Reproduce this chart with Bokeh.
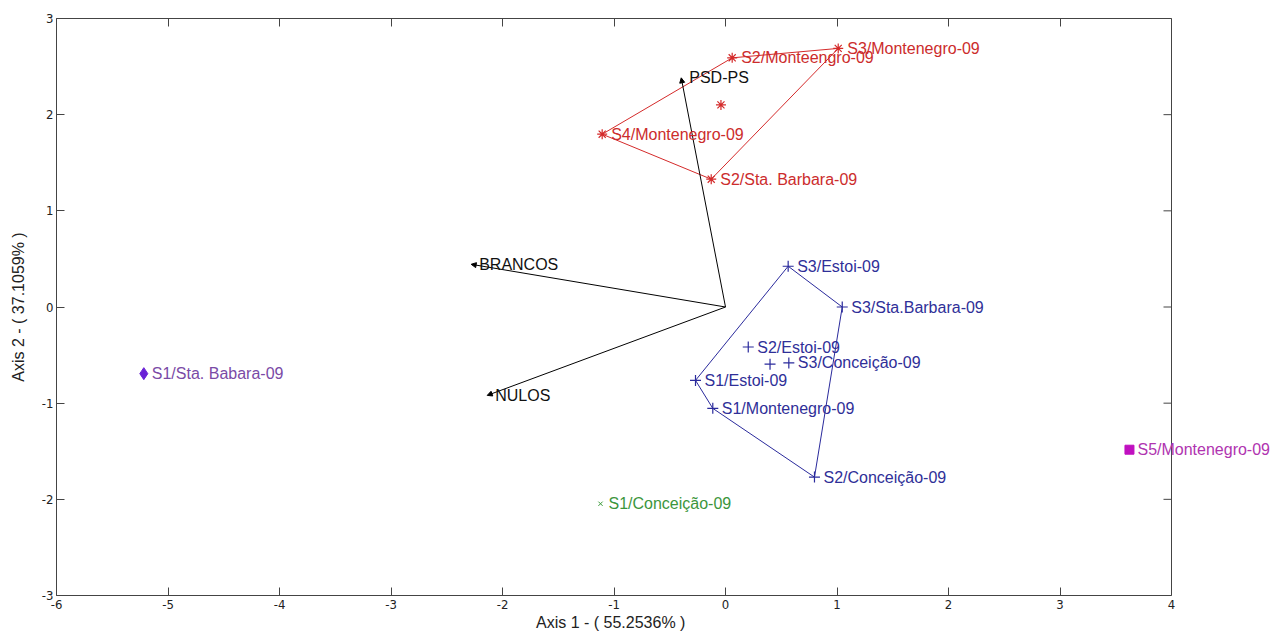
import numpy as np
from bokeh.plotting import figure
from bokeh.models import (Range1d, LinearAxis, Arrow, NormalHead, ColumnDataSource,
                          LabelSet, Span, FixedTicker, CustomJSTickFormatter)
from bokeh.core.properties import value
from bokeh.embed import file_html
from bokeh.resources import INLINE

# ---- data ----
red_names = ["S3/Montenegro-09", "S2/Monteengro-09", "S4/Montenegro-09", "S2/Sta. Barbara-09"]
red_x = [1.011, 0.060, -1.106, -0.128]
red_y = [2.689, 2.591, 1.797, 1.329]
red_hull = [2, 1, 0, 3, 2]

blue_names = ["S3/Estoi-09", "S3/Sta.Barbara-09", "S2/Estoi-09", "S3/Conceição-09",
              "S1/Estoi-09", "S1/Montenegro-09", "S2/Conceição-09"]
blue_x = [0.562, 1.047, 0.204, 0.568, -0.269, -0.114, 0.798]
blue_y = [0.424, 0.000, -0.416, -0.582, -0.763, -1.054, -1.769]
blue_hull = [0, 1, 6, 5, 4, 0]

purple_names = ["S1/Sta. Babara-09"]
purple_x = [-5.217]
purple_y = [-0.693]

magenta_names = ["S5/Montenegro-09"]
magenta_x = [3.623]
magenta_y = [-1.484]

green_names = ["S1/Conceição-09"]
green_x = [-1.121]
green_y = [-2.046]

var_names = ["PSD-PS", "BRANCOS", "NULOS"]
var_x = [-0.397, -2.281, -2.137]
var_y = [2.383, 0.444, -0.919]

x_ticks = [-6, -5, -4, -3, -2, -1, 0, 1, 2, 3, 4]
y_ticks = [-3, -2, -1, 0, 1, 2, 3]
x_min, x_max = -6, 4
y_min, y_max = -3, 3
x_title = "Axis 1 - ( 55.2536% )"
y_title = "Axis 2 - ( 37.1059% )"

# ---- style / layout ----
RED = "#d42a2a"
RED_T = "#cc2c2c"
BLUE = "#2a2a9c"
BLUE_T = "#2f2f98"
PURPLE = "#6a22d6"
PURPLE_T = "#7a4aa6"
MAGENTA = "#c010c0"
MAGENTA_T = "#b034b0"
GREEN = "#3a9a3a"
GREEN_T = "#3c963c"
AXC = "#444444"
FONT_NAME = "Liberation Sans"
LBL_FONT = value(FONT_NAME)
NARROW = "'Liberation Sans Narrow', 'Arial Narrow', 'DejaVu Sans Condensed', sans-serif"
FS = "16px"
TITLE_FS = "16px"

W, H = 1274, 634
BL, BT, BB = 56, 18, 39
BOX_W = 1115  # pixel width of the box from x_min to x_max
frame_w = W - BL
x_end = x_min + frame_w * (x_max - x_min) / BOX_W  # extra room so outside labels are not clipped

p = figure(width=W, height=H, output_backend="svg", toolbar_location=None,
           x_range=Range1d(x_min, x_end), y_range=Range1d(y_min, y_max),
           min_border_left=BL, min_border_right=0, min_border_top=BT, min_border_bottom=BB)
p.xgrid.visible = False
p.ygrid.visible = False
p.outline_line_color = None
p.background_fill_color = "white"
p.border_fill_color = "white"

def style_axis(ax, show_labels=True):
    ax.axis_line_color = AXC
    ax.major_tick_line_color = AXC
    ax.major_tick_in = 8
    ax.major_tick_out = 0
    ax.minor_tick_line_color = None
    ax.major_label_text_font = NARROW
    ax.major_label_text_font_size = "13px"
    ax.major_label_text_color = "#222222"
    ax.major_label_standoff = 4
    ax.axis_label_text_font = FONT_NAME
    ax.axis_label_text_font_size = TITLE_FS
    ax.axis_label_text_font_style = "normal"
    ax.axis_label_text_color = "#222222"
    if show_labels:
        ax.formatter = CustomJSTickFormatter(code="return tick.toString()")
    else:
        ax.formatter = CustomJSTickFormatter(code="return ''")

p.xaxis.ticker = FixedTicker(ticks=x_ticks)
p.yaxis.ticker = FixedTicker(ticks=y_ticks)
style_axis(p.xaxis[0])
style_axis(p.yaxis[0])
p.xaxis.bounds = (x_min, x_max)
p.yaxis.axis_label = y_title
p.yaxis.axis_label_standoff = 12
p.yaxis.major_label_standoff = 3

# x-axis title centred under the box (not under the widened frame)
p.title.text = x_title
p.title_location = "below"
p.title.align = "left"
p.title.text_font = FONT_NAME
p.title.text_font_size = TITLE_FS
p.title.text_font_style = "normal"
p.title.text_color = "#222222"
p.title.standoff = 0
p.title.offset = BOX_W / 2 - 78

top_ax = LinearAxis(ticker=FixedTicker(ticks=x_ticks), bounds=(x_min, x_max))
style_axis(top_ax, show_labels=False)
top_ax.major_label_standoff = 0
p.add_layout(top_ax, "above")

# right edge of the box, with inward ticks
p.add_layout(Span(location=x_max, dimension="height", line_color=AXC, line_width=1))
p.ray(x=[x_max] * len(y_ticks), y=y_ticks, length=8, length_units="screen",
      angle=np.pi, line_color=AXC, line_width=1)

# ---- variable arrows ----
vsrc = ColumnDataSource(dict(x=var_x, y=var_y, name=var_names))
p.add_layout(Arrow(end=NormalHead(size=5, fill_color="black", line_color="black", line_width=1),
                   x_start=0, y_start=0, x_end="x", y_end="y", source=vsrc,
                   line_color="black", line_width=1))
p.add_layout(LabelSet(x="x", y="y", text="name", source=vsrc, x_offset=8,
                      text_baseline="middle", text_font=LBL_FONT,
                      text_font_size=FS, text_color="#111111"))

# ---- red group ----
p.line([red_x[i] for i in red_hull], [red_y[i] for i in red_hull], line_color=RED, line_width=1)
p.scatter(red_x, red_y, marker="asterisk", size=10, line_color=RED, line_width=1.2)
p.scatter([np.mean(red_x)], [np.mean(red_y)], marker="asterisk", size=10, line_color=RED, line_width=1.2)
rsrc = ColumnDataSource(dict(x=red_x, y=red_y, name=red_names))
p.add_layout(LabelSet(x="x", y="y", text="name", source=rsrc, x_offset=9,
                      text_baseline="middle", text_font=LBL_FONT,
                      text_font_size=FS, text_color=RED_T))

# ---- blue group ----
p.line([blue_x[i] for i in blue_hull], [blue_y[i] for i in blue_hull], line_color=BLUE, line_width=1)
p.scatter(blue_x, blue_y, marker="cross", size=11, line_color=BLUE, line_width=1.2)
p.scatter([np.mean(blue_x)], [np.mean(blue_y)], marker="cross", size=11, line_color=BLUE, line_width=1.2)
bsrc = ColumnDataSource(dict(x=blue_x, y=blue_y, name=blue_names))
p.add_layout(LabelSet(x="x", y="y", text="name", source=bsrc, x_offset=9,
                      text_baseline="middle", text_font=LBL_FONT,
                      text_font_size=FS, text_color=BLUE_T))

# ---- single points ----
p.scatter(purple_x, purple_y, marker="diamond", size=12, fill_color=PURPLE, line_color=PURPLE)
p.add_layout(LabelSet(x="x", y="y", text="name",
                      source=ColumnDataSource(dict(x=purple_x, y=purple_y, name=purple_names)),
                      x_offset=8, text_baseline="middle", text_font=LBL_FONT,
                      text_font_size=FS, text_color=PURPLE_T))

p.scatter(magenta_x, magenta_y, marker="square", size=9, fill_color=MAGENTA, line_color=MAGENTA)
p.add_layout(LabelSet(x="x", y="y", text="name",
                      source=ColumnDataSource(dict(x=magenta_x, y=magenta_y, name=magenta_names)),
                      x_offset=8, text_baseline="middle", text_font=LBL_FONT,
                      text_font_size=FS, text_color=MAGENTA_T))

p.scatter(green_x, green_y, marker="x", size=6, line_color=GREEN, line_width=1)
p.add_layout(LabelSet(x="x", y="y", text="name",
                      source=ColumnDataSource(dict(x=green_x, y=green_y, name=green_names)),
                      x_offset=8, text_baseline="middle", text_font=LBL_FONT,
                      text_font_size=FS, text_color=GREEN_T))

open("out.html", "w").write(file_html(p, INLINE))
